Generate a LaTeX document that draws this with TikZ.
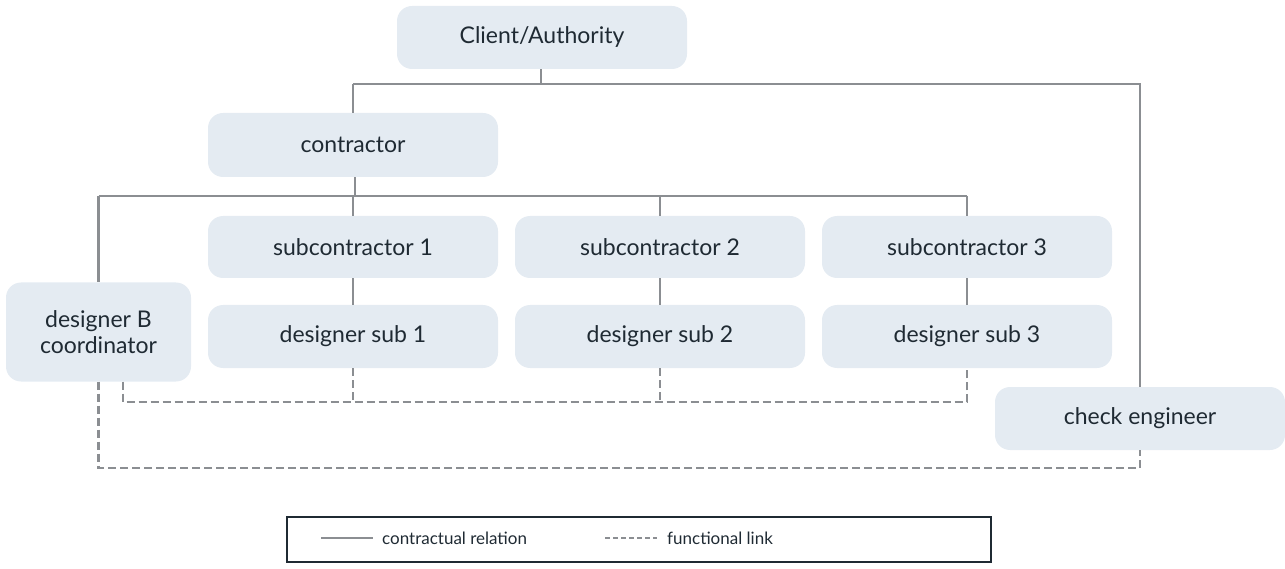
\documentclass[tikz,border=0pt]{standalone}
\usepackage{fontspec}
\setmainfont{Lato}
\begin{document}
\begin{tikzpicture}[x=1pt,y=-1pt,
  box/.style={draw=none,fill=boxfill,rounded corners=15pt,text=ink,font=\fontsize{23}{26}\selectfont,align=center,inner sep=0pt},
  contract/.style={draw=linegray,line width=2.6pt},
  funclink/.style={draw=linegray,line width=2.6pt,dash pattern=on 8pt off 4pt}]
\definecolor{boxfill}{HTML}{E4EBF2}
\definecolor{linegray}{HTML}{8B8E92}
\definecolor{ink}{HTML}{1F2A33}
\useasboundingbox (0,0) rectangle (1285,569);

% boxes
\node[box,minimum width=290pt,minimum height=63pt] (client) at (542,37.5) {Client/Authority};
\node[box,minimum width=290pt,minimum height=64pt] (contr) at (353,145) {contractor};
\node[box,minimum width=290pt,minimum height=62pt] (sc1) at (353,247) {subcontractor 1};
\node[box,minimum width=290pt,minimum height=62pt] (sc2) at (660,247) {subcontractor 2};
\node[box,minimum width=290pt,minimum height=62pt] (sc3) at (967,247) {subcontractor 3};
\node[box,minimum width=290pt,minimum height=63pt] (ds1) at (353,336.5) {designer sub 1};
\node[box,minimum width=290pt,minimum height=63pt] (ds2) at (660,336.5) {designer sub 2};
\node[box,minimum width=290pt,minimum height=63pt] (ds3) at (967,336.5) {designer sub 3};
\node[box,minimum width=185pt,minimum height=99pt] (dB) at (98.5,332) {designer B\\coordinator};
\node[box,minimum width=290pt,minimum height=63pt] (chk) at (1140,418.5) {check engineer};

% junction points
\coordinate (jc) at (541,84);
\coordinate (jk) at (355,196);

% contractual relations
\draw[contract] (client.south -| jc) -- (jc);
\draw[contract] (jc -| contr) -- (jc -| chk) -- (chk.north);
\draw[contract] (jc -| contr) -- (contr.north);
\draw[contract] (contr.south -| jk) -- (jk);
\draw[contract] (jk -| dB) -- (jk -| sc3);
\draw[contract] (jk -| dB) -- (dB.north);
\draw[contract] (jk -| sc1) -- (sc1.north);
\draw[contract] (jk -| sc2) -- (sc2.north);
\draw[contract] (jk -| sc3) -- (sc3.north);
\draw[contract] (sc1.south) -- (ds1.north);
\draw[contract] (sc2.south) -- (ds2.north);
\draw[contract] (sc3.south) -- (ds3.north);

% functional links
\coordinate (fa) at (123,402);
\coordinate (fb) at (98,468);
\draw[funclink] (dB.south -| fa) -- (fa) -- (fa -| ds3) -- (ds3.south);
\draw[funclink] (ds1.south) -- (fa -| ds1);
\draw[funclink] (ds2.south) -- (fa -| ds2);
\draw[funclink] (dB.south) -- (fb -| dB) -- (fb -| chk) -- (chk.south);

% legend
\node[draw=ink,line width=1.5pt,minimum width=704pt,minimum height=45pt,inner sep=0pt] (legend) at (639,539.5) {};
\coordinate (l1a) at (321,538);
\coordinate (l1b) at (373,538);
\coordinate (l2a) at (605,538);
\coordinate (l2b) at (657,538);
\draw[contract] (l1a) -- (l1b);
\draw[funclink,dash pattern=on 5pt off 3pt] (l2a) -- (l2b);
\node[anchor=west,text=ink,font=\fontsize{17}{20}\selectfont,inner sep=0pt] (lt1) at (382,538) {contractual relation};
\node[anchor=west,text=ink,font=\fontsize{17}{20}\selectfont,inner sep=0pt] (lt2) at (667,538) {functional link};
\end{tikzpicture}
\end{document}
